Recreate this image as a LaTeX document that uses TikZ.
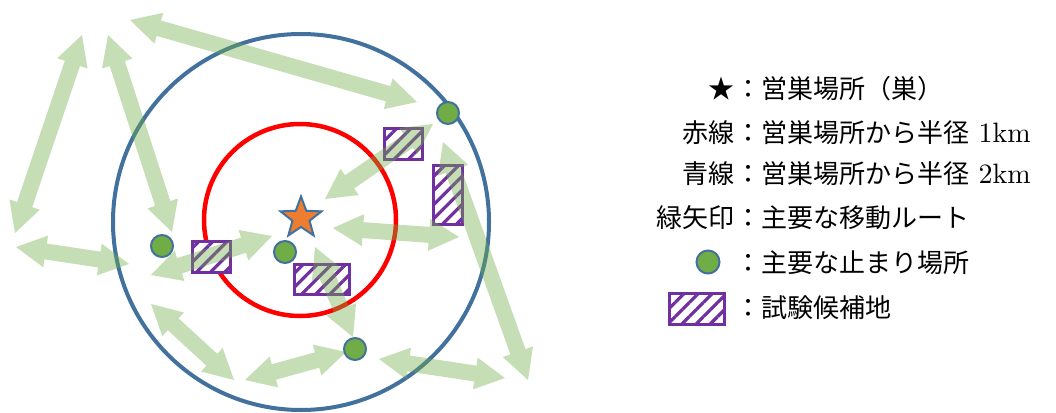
\documentclass[tikz,border=0pt]{standalone}
\usepackage{fontspec}
\newfontfamily\jp{Noto Sans CJK JP}
\newfontfamily\lmr{lmroman10-regular.otf}
\usetikzlibrary{calc,shapes.geometric,patterns.meta}
\definecolor{bluecirc}{HTML}{41719C}
\definecolor{dotgreen}{HTML}{70AD47}
\definecolor{staror}{HTML}{ED7D31}
\definecolor{boxpurple}{HTML}{7030A0}
\newcommand{\blockarrow}[2]{%
 \fill[route] (#1) -- ($(#1)!30pt!(#2)!16pt!90:(#2)$) -- ($(#1)!30pt!(#2)!8pt!90:(#2)$)
  -- ($(#2)!30pt!(#1)!8pt!-90:(#1)$) -- ($(#2)!30pt!(#1)!16pt!-90:(#1)$) -- (#2)
  -- ($(#2)!30pt!(#1)!16pt!90:(#1)$) -- ($(#2)!30pt!(#1)!8pt!90:(#1)$)
  -- ($(#1)!30pt!(#2)!8pt!-90:(#2)$) -- ($(#1)!30pt!(#2)!16pt!-90:(#2)$) -- cycle;}
\newcommand{\kmtext}[1]{{\fontsize{28}{30}\selectfont\lmr #1}}
\begin{document}
\begin{tikzpicture}[x=1pt,y=-1pt,
  route/.style={fill=dotgreen, fill opacity=0.4},
  stopdot/.style={circle, fill=dotgreen, draw=bluecirc, line width=2pt, minimum size=22pt, inner sep=0pt},
  candbox/.style={draw=boxpurple, line width=3pt, preaction={fill=white},
    pattern={Lines[angle=45,distance=10pt,line width=3.2pt]}, pattern color=boxpurple, inner sep=0pt},
  nest/.style={star, star points=5, star point ratio=2.4, minimum size=43pt, inner sep=0pt,
    fill=staror, draw=bluecirc, line width=2pt},
  lbl/.style={font=\fontsize{26}{30}\selectfont\jp, inner sep=0pt}]
\useasboundingbox (0,0) rectangle (1056,412);
% circles
\draw[bluecirc, line width=4pt] (301,222) circle[radius=188];
\draw[red, line width=4.5pt] (300,220) circle[radius=96];
% candidate boxes
\node[candbox, minimum width=38pt, minimum height=31pt] (b1) at (403.5,144) {};
\node[candbox, minimum width=29pt, minimum height=59pt] (b2) at (448,195) {};
\node[candbox, minimum width=38pt, minimum height=31pt] (b3) at (211.5,257) {};
\node[candbox, minimum width=55pt, minimum height=30pt] (b4) at (322,279.5) {};
% arrow end points
\coordinate (a1s) at (15,233);   \coordinate (a1e) at (82,35);
\coordinate (a2s) at (108,35);   \coordinate (a2e) at (172,232);
\coordinate (a3s) at (130,20);   \coordinate (a3e) at (417,102);
\coordinate (a4s) at (433,124);  \coordinate (a4e) at (325,199);
\coordinate (a5s) at (443,142);  \coordinate (a5e) at (528,380);
\coordinate (a6s) at (333,228);  \coordinate (a6e) at (459,237);
\coordinate (a7s) at (151,275);  \coordinate (a7e) at (272,236);
\coordinate (a8s) at (16,247);   \coordinate (a8e) at (129,264);
\coordinate (a9s) at (315,247);  \coordinate (a9e) at (353,337);
\coordinate (a10s) at (151,304); \coordinate (a10e) at (234,380);
\coordinate (a11s) at (245,380); \coordinate (a11e) at (346,352);
\coordinate (a12s) at (379,359); \coordinate (a12e) at (505,378);
\blockarrow{a1s}{a1e}
\blockarrow{a2s}{a2e}
\blockarrow{a3s}{a3e}
\blockarrow{a4s}{a4e}
\blockarrow{a5s}{a5e}
\blockarrow{a6s}{a6e}
\blockarrow{a7s}{a7e}
\blockarrow{a8s}{a8e}
\blockarrow{a9s}{a9e}
\blockarrow{a10s}{a10e}
\blockarrow{a11s}{a11e}
\blockarrow{a12s}{a12e}
% stops and nest
\node[stopdot] (d1) at (162,246) {};
\node[stopdot] (d2) at (285,252) {};
\node[stopdot] (d3) at (448,113) {};
\node[stopdot] (d4) at (355,349) {};
\node[nest] (nest) at (301,218) {};
% legend
\node[lbl, anchor=base east] (k1) at (735,98) {★};
\node[lbl, anchor=base west] (t1) at (735,98) {：営巣場所（巣）};
\node[lbl, anchor=base east] (k2) at (735,142) {赤線};
\node[lbl, anchor=base west] (t2) at (735,142) {：営巣場所から半径\kmtext{ 1km}};
\node[lbl, anchor=base east] (k3) at (735,183) {青線};
\node[lbl, anchor=base west] (t3) at (735,183) {：営巣場所から半径\kmtext{ 2km}};
\node[lbl, anchor=base east] (k4) at (735,227) {緑矢印};
\node[lbl, anchor=base west] (t4) at (735,227) {：主要な移動ルート};
\node[stopdot, minimum size=23pt] (k5) at (708,262) {};
\node[lbl, anchor=base west] (t5) at (735,272) {：主要な止まり場所};
\node[candbox, minimum width=55pt, minimum height=31pt] (k6) at (697,309) {};
\node[lbl, anchor=base west] (t6) at (735,317) {：試験候補地};
\end{tikzpicture}
\end{document}
